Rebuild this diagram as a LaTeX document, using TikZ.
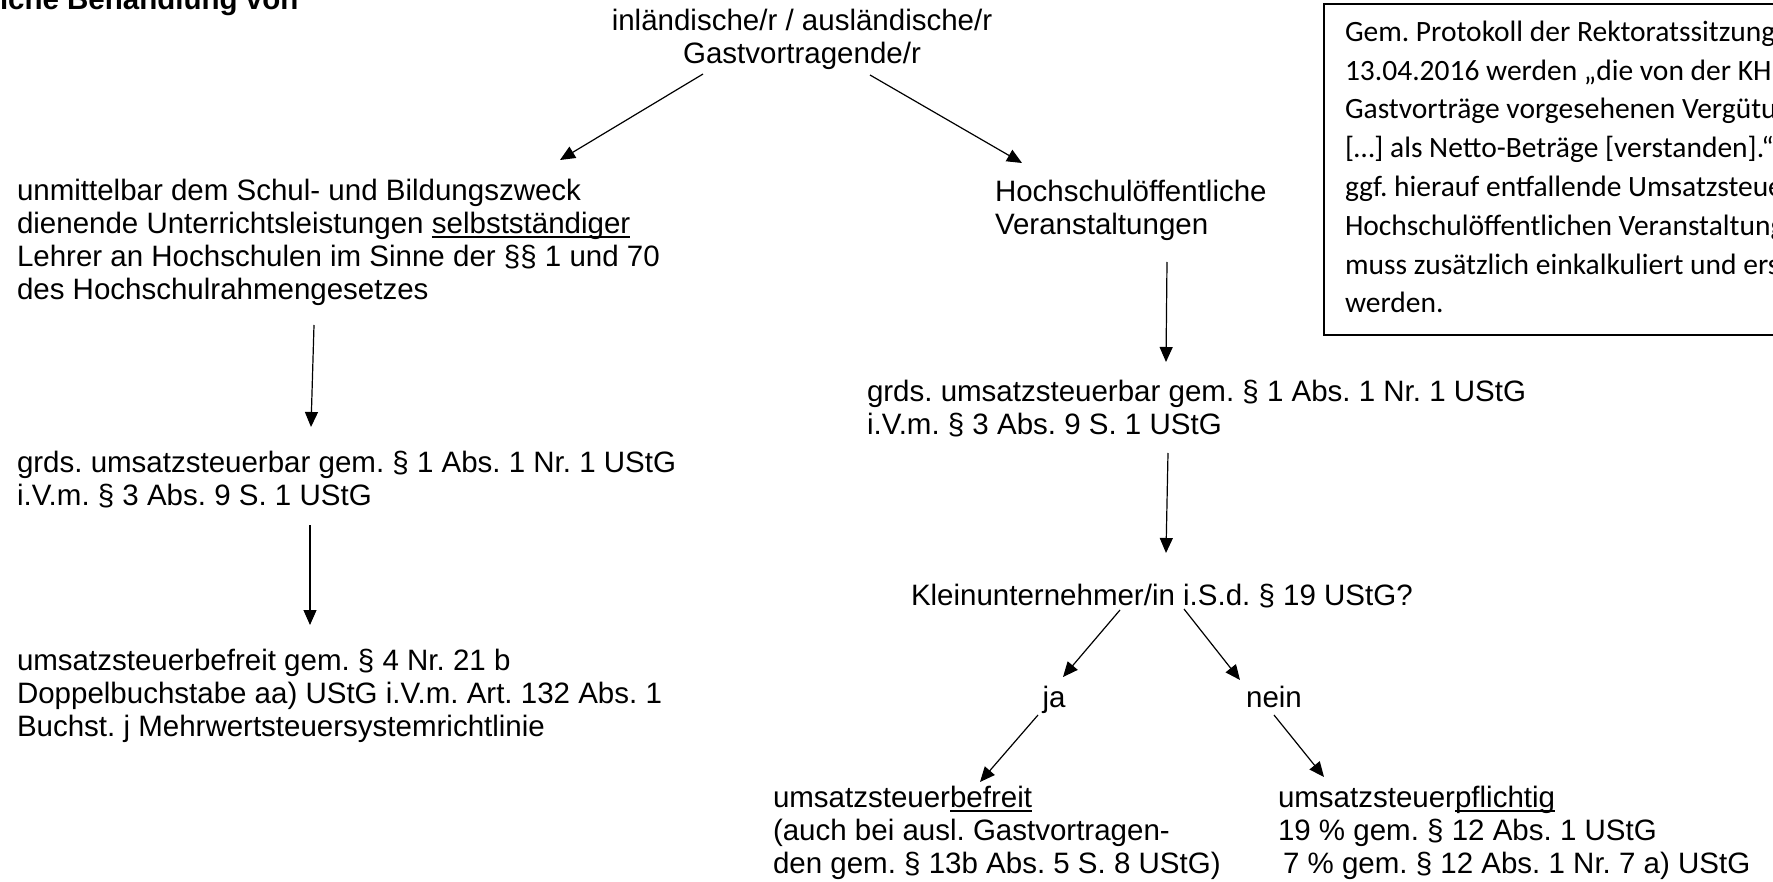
\documentclass[tikz,border=0pt]{standalone}
\usepackage{fontspec}
\setmainfont{Liberation Sans}
\newfontfamily\notizfont{Carlito}
\usetikzlibrary{arrows.meta,calc}
\frenchspacing
\newcommand{\unterstr}[1]{\setbox0=\hbox{#1}\rlap{\rule[-4.5pt]{\wd0}{2pt}}\box0}

\begin{document}
\begin{tikzpicture}[x=1pt, y=-1pt, >={Triangle[length=15pt,width=13pt]}, line width=1.2pt,
  every node/.style={inner sep=0pt, outer sep=0pt, font=\fontsize{29.5}{33}\selectfont},
  txt/.style={anchor=base west, align=left},
  pfeil/.style={->}]
\useasboundingbox (0,0) rectangle (1773,882);
\clip (0,0) rectangle (1773,882);
\fill[white] (0,0) rectangle (1773,882);

% Ueberschrift, oben abgeschnitten
\node[txt, font=\fontsize{29.5}{33}\selectfont\bfseries] (titel) at (0,10) {iche Behandlung von};

% Ausgangspunkt (base = letzte Zeile)
\node[anchor=base, align=center] (gast) at (802,64) {inländische/r / ausländische/r\\Gastvortragende/r};

% linker Zweig
\node[txt] (unterricht) at (17,300) {unmittelbar dem Schul- und Bildungszweck\\dienende Unterrichtsleistungen \unterstr{selbstständiger}\\Lehrer an Hochschulen im Sinne der §§ 1 und 70\\des Hochschulrahmengesetzes};
\node[txt] (steuerbarL) at (17,505) {grds. umsatzsteuerbar gem. § 1 Abs. 1 Nr. 1 UStG\\i.V.m. § 3 Abs. 9 S. 1 UStG};
\node[txt] (befreitL) at (17,736) {umsatzsteuerbefreit gem. § 4 Nr. 21 b\\Doppelbuchstabe aa) UStG i.V.m. Art. 132 Abs. 1\\Buchst. j Mehrwertsteuersystemrichtlinie};

% rechter Zweig
\node[txt] (hoev) at (995,235) {Hochschulöffentliche\\Veranstaltungen};
\node[txt] (steuerbarR) at (867,435) {grds. umsatzsteuerbar gem. § 1 Abs. 1 Nr. 1 UStG\\i.V.m. § 3 Abs. 9 S. 1 UStG};
\node[txt] (klein) at (911,605) {Kleinunternehmer/in i.S.d. § 19 UStG?};
\node[anchor=base] (ja) at (1054,707) {ja};
\node[anchor=base] (nein) at (1274,707) {nein};
\node[txt] (befreit) at (773,873) {umsatzsteuer\unterstr{befreit}\\(auch bei ausl. Gastvortragen-\\den gem. § 13b Abs. 5 S. 8 UStG)};
\node[txt] (pflichtig) at (1278,873) {umsatzsteuer\unterstr{pflichtig}\\19 \% gem. § 12 Abs. 1 UStG\\\hspace{5pt}7 \% gem. § 12 Abs. 1 Nr. 7 a) UStG};

% Hinweis rechts oben, rechts abgeschnitten
\node[draw, line width=1.8pt, minimum width=600pt, minimum height=331pt, anchor=north west] (notiz) at (1324,4) {};
\node[anchor=base west, align=left, font=\notizfont\fontsize{29.5}{38.8}\selectfont] (notiztext) at (1345,313) {Gem. Protokoll der Rektoratssitzung\\13.04.2016 werden „die von der KHM\\Gastvorträge vorgesehenen Vergütu\\{[}…{]} als Netto-Beträge {[}verstanden{]}.“\\ggf. hierauf entfallende Umsatzsteue\\Hochschulöffentlichen Veranstaltung\\muss zusätzlich einkalkuliert und ers\\werden.};

% Pfeile
\draw[pfeil] ($(gast.base)+(-99,10)$) -- ($(unterricht.base west)+(543,-140)$);
\draw[pfeil] ($(gast.base)+(68,11)$) -- ($(hoev.base west)+(27,-72)$);
\draw[pfeil] ($(unterricht.base west)+(297,25)$) -- ($(steuerbarL.base west)+(294,-78)$);
\draw[pfeil] ($(steuerbarL.base west)+(293,20)$) -- ($(befreitL.base west)+(293,-111)$);
\draw[pfeil] ($(hoev.base west)+(172,27)$) -- ($(steuerbarR.base west)+(299,-73)$);
\draw[pfeil] ($(steuerbarR.base west)+(301,18)$) -- ($(klein.base west)+(255,-52)$);
\draw[pfeil] ($(klein.base west)+(209,5)$) -- ($(ja.base)+(9,-30)$);
\draw[pfeil] ($(klein.base west)+(273,4)$) -- ($(nein.base)+(-34,-27)$);
\draw[pfeil] ($(ja.base)+(-16,8)$) -- ($(befreit.base west)+(207,-91)$);
\draw[pfeil] ($(nein.base)+(0,8)$) -- ($(pflichtig.base west)+(46,-96)$);
\end{tikzpicture}
\end{document}
